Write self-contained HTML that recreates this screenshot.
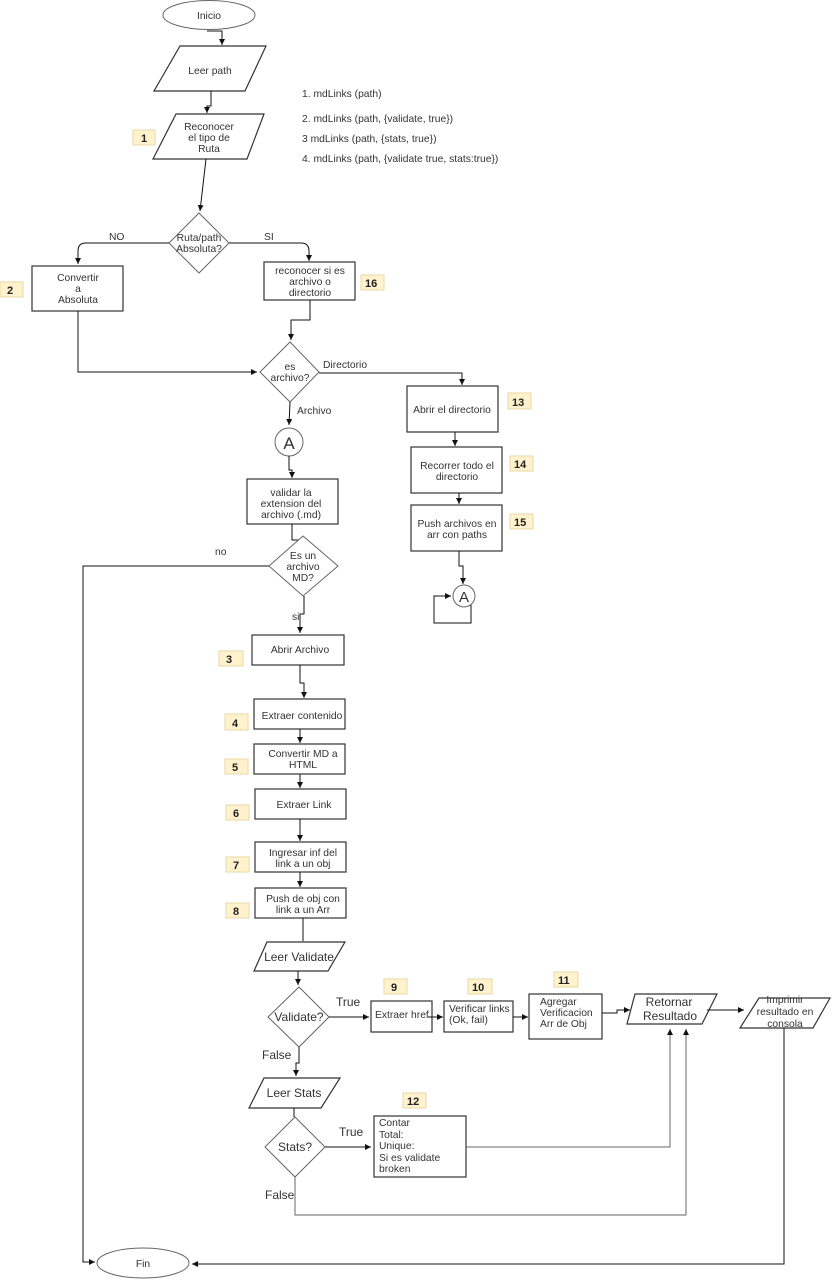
<!DOCTYPE html>
<html><head><meta charset="utf-8"><style>
html,body{margin:0;padding:0;background:#fff;}
svg{display:block;}
text{font-family:"Liberation Sans",Arial,sans-serif;fill:#333;font-size:10.3px;}
.b{fill:#fff2cc;stroke:#e8d9a6;stroke-width:1;}
text.bt{font-size:11px;font-weight:bold;fill:#222;}
text.m{font-size:12px;}
text.A1{font-size:17px;}
text.A2{font-size:15px;}
.s{fill:#fff;stroke:#333;stroke-width:1.2;}
.d{fill:#fff;stroke:#666;stroke-width:1;}
.l{fill:none;stroke:#111;stroke-width:1;}
.g{fill:none;stroke:#666;stroke-width:1;}
</style></head><body>
<svg width="832" height="1280" viewBox="0 0 832 1280" xmlns="http://www.w3.org/2000/svg">
<defs><marker id="a" markerWidth="8" markerHeight="8" refX="6" refY="3" orient="auto" markerUnits="userSpaceOnUse"><path d="M0,0 L6,3 L0,6 z" fill="#111"/></marker></defs>

<ellipse cx="209" cy="15" rx="46" ry="14.5" class="d"/>
<text x="209" y="19" text-anchor="middle">Inicio</text>
<path d="M207,31 H222 V45" class="l" marker-end="url(#a)"/>
<polygon points="180,46 266,46 245,91 154,91" class="s"/>
<text x="210" y="74" text-anchor="middle">Leer path</text>
<path d="M211,91 V106 H207 V113" class="l" marker-end="url(#a)"/>
<polygon points="176,114 264,114 247,159 153,159" class="s"/>
<text x="209" y="130" text-anchor="middle">Reconocer</text>
<text x="209" y="141" text-anchor="middle">el tipo de</text>
<text x="209" y="152" text-anchor="middle">Ruta</text>
<rect x="133" y="130" width="22" height="15" class="b"/><text x="141" y="142" class="bt">1</text>

<text x="302" y="97">1. mdLinks (path)</text>
<text x="302" y="122">2. mdLinks (path, {validate, true})</text>
<text x="302" y="142">3  mdLinks (path, {stats, true})</text>
<text x="302" y="162">4. mdLinks (path, {validate true, stats:true})</text>

<path d="M206,159 L200,211" class="l" marker-end="url(#a)"/>
<polygon points="199,213 229,243 199,273 169,243" class="d"/>
<text x="199" y="241" text-anchor="middle">Ruta/path</text>
<text x="199" y="252" text-anchor="middle">Absoluta?</text>
<path d="M169,243 H86 Q78,243 78,251 V264" class="l" marker-end="url(#a)"/>
<text x="109" y="240">NO</text>
<path d="M229,243 H301 Q309,243 309,251 V261" class="l" marker-end="url(#a)"/>
<text x="264" y="240">SI</text>

<rect x="32" y="266" width="91" height="45" class="s"/>
<text x="78" y="281" text-anchor="middle">Convertir</text>
<text x="78" y="292" text-anchor="middle">a</text>
<text x="78" y="303" text-anchor="middle">Absoluta</text>
<rect x="0" y="282" width="23" height="15" class="b"/><text x="7" y="294" class="bt">2</text>

<rect x="264" y="262" width="91" height="38" class="s"/>
<text x="310" y="274" text-anchor="middle">reconocer si es</text>
<text x="310" y="285" text-anchor="middle">archivo o</text>
<text x="310" y="296" text-anchor="middle">directorio</text>
<rect x="361" y="275" width="23" height="15" class="b"/><text x="365" y="287" class="bt">16</text>

<path d="M310,300 V320 H291 V340" class="l" marker-end="url(#a)"/>
<path d="M78,311 V372 H257" class="l" marker-end="url(#a)"/>
<polygon points="290,342 319,372 290,402 260,372" class="d"/>
<text x="290" y="370" text-anchor="middle">es</text>
<text x="290" y="381" text-anchor="middle">archivo?</text>
<path d="M319,373 H462 V385" class="l" marker-end="url(#a)"/>
<text x="323" y="368">Directorio</text>

<rect x="407" y="386" width="91" height="46" class="s"/>
<text x="452" y="413" text-anchor="middle">Abrir el directorio</text>
<rect x="508" y="393" width="23" height="16" class="b"/><text x="512" y="406" class="bt">13</text>
<path d="M455,432 V446" class="l" marker-end="url(#a)"/>
<rect x="411" y="447" width="91" height="46" class="s"/>
<text x="457" y="469" text-anchor="middle">Recorrer todo el</text>
<text x="457" y="480" text-anchor="middle">directorio</text>
<rect x="510" y="456" width="23" height="15" class="b"/><text x="514" y="468" class="bt">14</text>
<path d="M459,493 V504" class="l" marker-end="url(#a)"/>
<rect x="411" y="505" width="91" height="46" class="s"/>
<text x="457" y="527" text-anchor="middle">Push archivos en</text>
<text x="457" y="538" text-anchor="middle">arr con paths</text>
<rect x="510" y="514" width="23" height="15" class="b"/><text x="514" y="526" class="bt">15</text>
<path d="M459,551 V566 H463 V584" class="l" stroke-width="1.3" marker-end="url(#a)"/>
<circle cx="464" cy="596" r="11" class="d"/>
<text x="464" y="602" text-anchor="middle" class="A2">A</text>
<path d="M471,605 V623 H434 V596 H451" class="l" marker-end="url(#a)"/>

<path d="M290,402 L289,425" class="l" marker-end="url(#a)"/>
<text x="297" y="414">Archivo</text>
<circle cx="289" cy="442" r="14" class="d"/>
<text x="289" y="449" text-anchor="middle" class="A1">A</text>
<path d="M289,456 V470 H292 V478" class="l" marker-end="url(#a)"/>
<rect x="247" y="479" width="91" height="45" class="s"/>
<text x="291" y="496" text-anchor="middle">validar la</text>
<text x="291" y="507" text-anchor="middle">extension  del</text>
<text x="291" y="518" text-anchor="middle">archivo (.md)</text>
<path d="M292,524 V540 H303" class="l"/>
<polygon points="303,536 338,566 303,596 269,566" class="d"/>
<text x="303" y="559" text-anchor="middle">Es un</text>
<text x="303" y="570" text-anchor="middle">archivo</text>
<text x="303" y="581" text-anchor="middle">MD?</text>
<path d="M269,566 H83 V1262 H95" class="l" marker-end="url(#a)"/>
<text x="215" y="555">no</text>
<path d="M304,596 V614 H300 V633" class="l" marker-end="url(#a)"/>
<text x="292" y="620">si</text>

<rect x="252" y="635" width="92" height="30" class="s"/>
<text x="300" y="653" text-anchor="middle">Abrir Archivo</text>
<rect x="219" y="651" width="24" height="15" class="b"/><text x="226" y="663" class="bt">3</text>
<path d="M300,665 V683 H304 V698" class="l" marker-end="url(#a)"/>
<rect x="254" y="699" width="91" height="30" class="s"/>
<text x="302" y="719" text-anchor="middle">Extraer contenido</text>
<rect x="225" y="714" width="23" height="16" class="b"/><text x="232" y="727" class="bt">4</text>
<path d="M300,729 V743" class="l" stroke-width="1.3" marker-end="url(#a)"/>
<rect x="254" y="744" width="91" height="30" class="s"/>
<text x="303" y="757" text-anchor="middle">Convertir MD a</text>
<text x="303" y="768" text-anchor="middle">HTML</text>
<rect x="225" y="759" width="23" height="15" class="b"/><text x="232" y="771" class="bt">5</text>
<path d="M300,774 V788" class="l" stroke-width="1.3" marker-end="url(#a)"/>
<rect x="255" y="789" width="91" height="30" class="s"/>
<text x="304" y="808" text-anchor="middle">Extraer Link</text>
<rect x="226" y="805" width="23" height="15" class="b"/><text x="233" y="817" class="bt">6</text>
<path d="M300,819 V841" class="l" stroke-width="1.3" marker-end="url(#a)"/>
<rect x="255" y="842" width="91" height="30" class="s"/>
<text x="303" y="856" text-anchor="middle">Ingresar inf del</text>
<text x="303" y="867" text-anchor="middle">link a un obj</text>
<rect x="226" y="857" width="23" height="15" class="b"/><text x="233" y="869" class="bt">7</text>
<path d="M300,872 V887" class="l" stroke-width="1.3" marker-end="url(#a)"/>
<rect x="255" y="888" width="91" height="30" class="s"/>
<text x="303" y="902" text-anchor="middle">Push de obj con</text>
<text x="303" y="913" text-anchor="middle">link a un Arr</text>
<rect x="226" y="903" width="23" height="15" class="b"/><text x="233" y="915" class="bt">8</text>
<path d="M303,918 V941" class="l"/>

<polygon points="267,942 345,942 328,971 254,971" class="s"/>
<text x="299" y="961" text-anchor="middle" class="m">Leer Validate</text>
<path d="M298,971 V985" class="l" marker-end="url(#a)"/>
<polygon points="299,987 329,1017 299,1047 268,1017" class="d"/>
<text x="299" y="1021" text-anchor="middle" class="m">Validate?</text>
<path d="M329,1017 H369" class="l" marker-end="url(#a)"/>
<text x="336" y="1006" class="m">True</text>
<rect x="371" y="1001" width="61" height="31" class="s"/>
<text x="375" y="1018">Extraer href</text>
<rect x="384" y="979" width="23" height="15" class="b"/><text x="391" y="991" class="bt">9</text>
<path d="M428,1017 H443" class="l" marker-end="url(#a)"/>
<rect x="444" y="1001" width="69" height="31" class="s"/>
<text x="449" y="1012">Verificar links</text>
<text x="449" y="1023">(Ok, fail)</text>
<rect x="468" y="979" width="24" height="15" class="b"/><text x="472" y="991" class="bt">10</text>
<path d="M513,1017 H528" class="l" marker-end="url(#a)"/>
<rect x="529" y="994" width="73" height="45" class="s"/>
<text x="540" y="1005">Agregar</text>
<text x="540" y="1016">Verificacion</text>
<text x="540" y="1027">Arr de Obj</text>
<rect x="554" y="972" width="24" height="15" class="b"/><text x="558" y="984" class="bt">11</text>
<path d="M602,1013 H617 V1010 H630" class="l" marker-end="url(#a)"/>

<polygon points="635,994 717,994 702,1024 627,1024" class="s"/>
<text x="669" y="1006" text-anchor="middle" class="m">Retornar</text>
<text x="670" y="1020" text-anchor="middle" class="m">Resultado</text>
<path d="M707,1010 H744" class="l" marker-end="url(#a)"/>
<polygon points="759,998 830,998 813,1028 740,1028" class="s"/>
<text x="785" y="1003" text-anchor="middle">Imprimir</text>
<text x="785" y="1015" text-anchor="middle">resultado en</text>
<text x="785" y="1027" text-anchor="middle">consola</text>
<path d="M784,1028 V1264 H192" class="l" marker-end="url(#a)"/>

<text x="262" y="1059" class="m">False</text>
<path d="M299,1047 V1063 H296 V1076" class="l" marker-end="url(#a)"/>
<polygon points="264,1078 340,1078 321,1108 249,1108" class="s"/>
<text x="294" y="1097" text-anchor="middle" class="m">Leer Stats</text>
<path d="M294,1108 V1117" class="l"/>
<polygon points="295,1117 325,1147 295,1177 265,1147" class="d"/>
<text x="295" y="1151" text-anchor="middle" class="m">Stats?</text>
<path d="M325,1147 H371" class="l" marker-end="url(#a)"/>
<text x="339" y="1136" class="m">True</text>
<rect x="374" y="1116" width="92" height="61" class="s"/>
<text x="379" y="1126">Contar</text>
<text x="379" y="1138">Total:</text>
<text x="379" y="1149">Unique:</text>
<text x="379" y="1161">Si es validate</text>
<text x="379" y="1172">broken</text>
<rect x="403" y="1093" width="23" height="15" class="b"/><text x="407" y="1105" class="bt">12</text>
<path d="M466,1147 H670 V1029" class="g" marker-end="url(#a)"/>
<text x="265" y="1199" class="m">False</text>
<path d="M295,1177 V1215 H686 V1029" class="g" marker-end="url(#a)"/>

<ellipse cx="143" cy="1263" rx="46" ry="15" class="d"/>
<text x="143" y="1267" text-anchor="middle">Fin</text>
</svg>
</body></html>
